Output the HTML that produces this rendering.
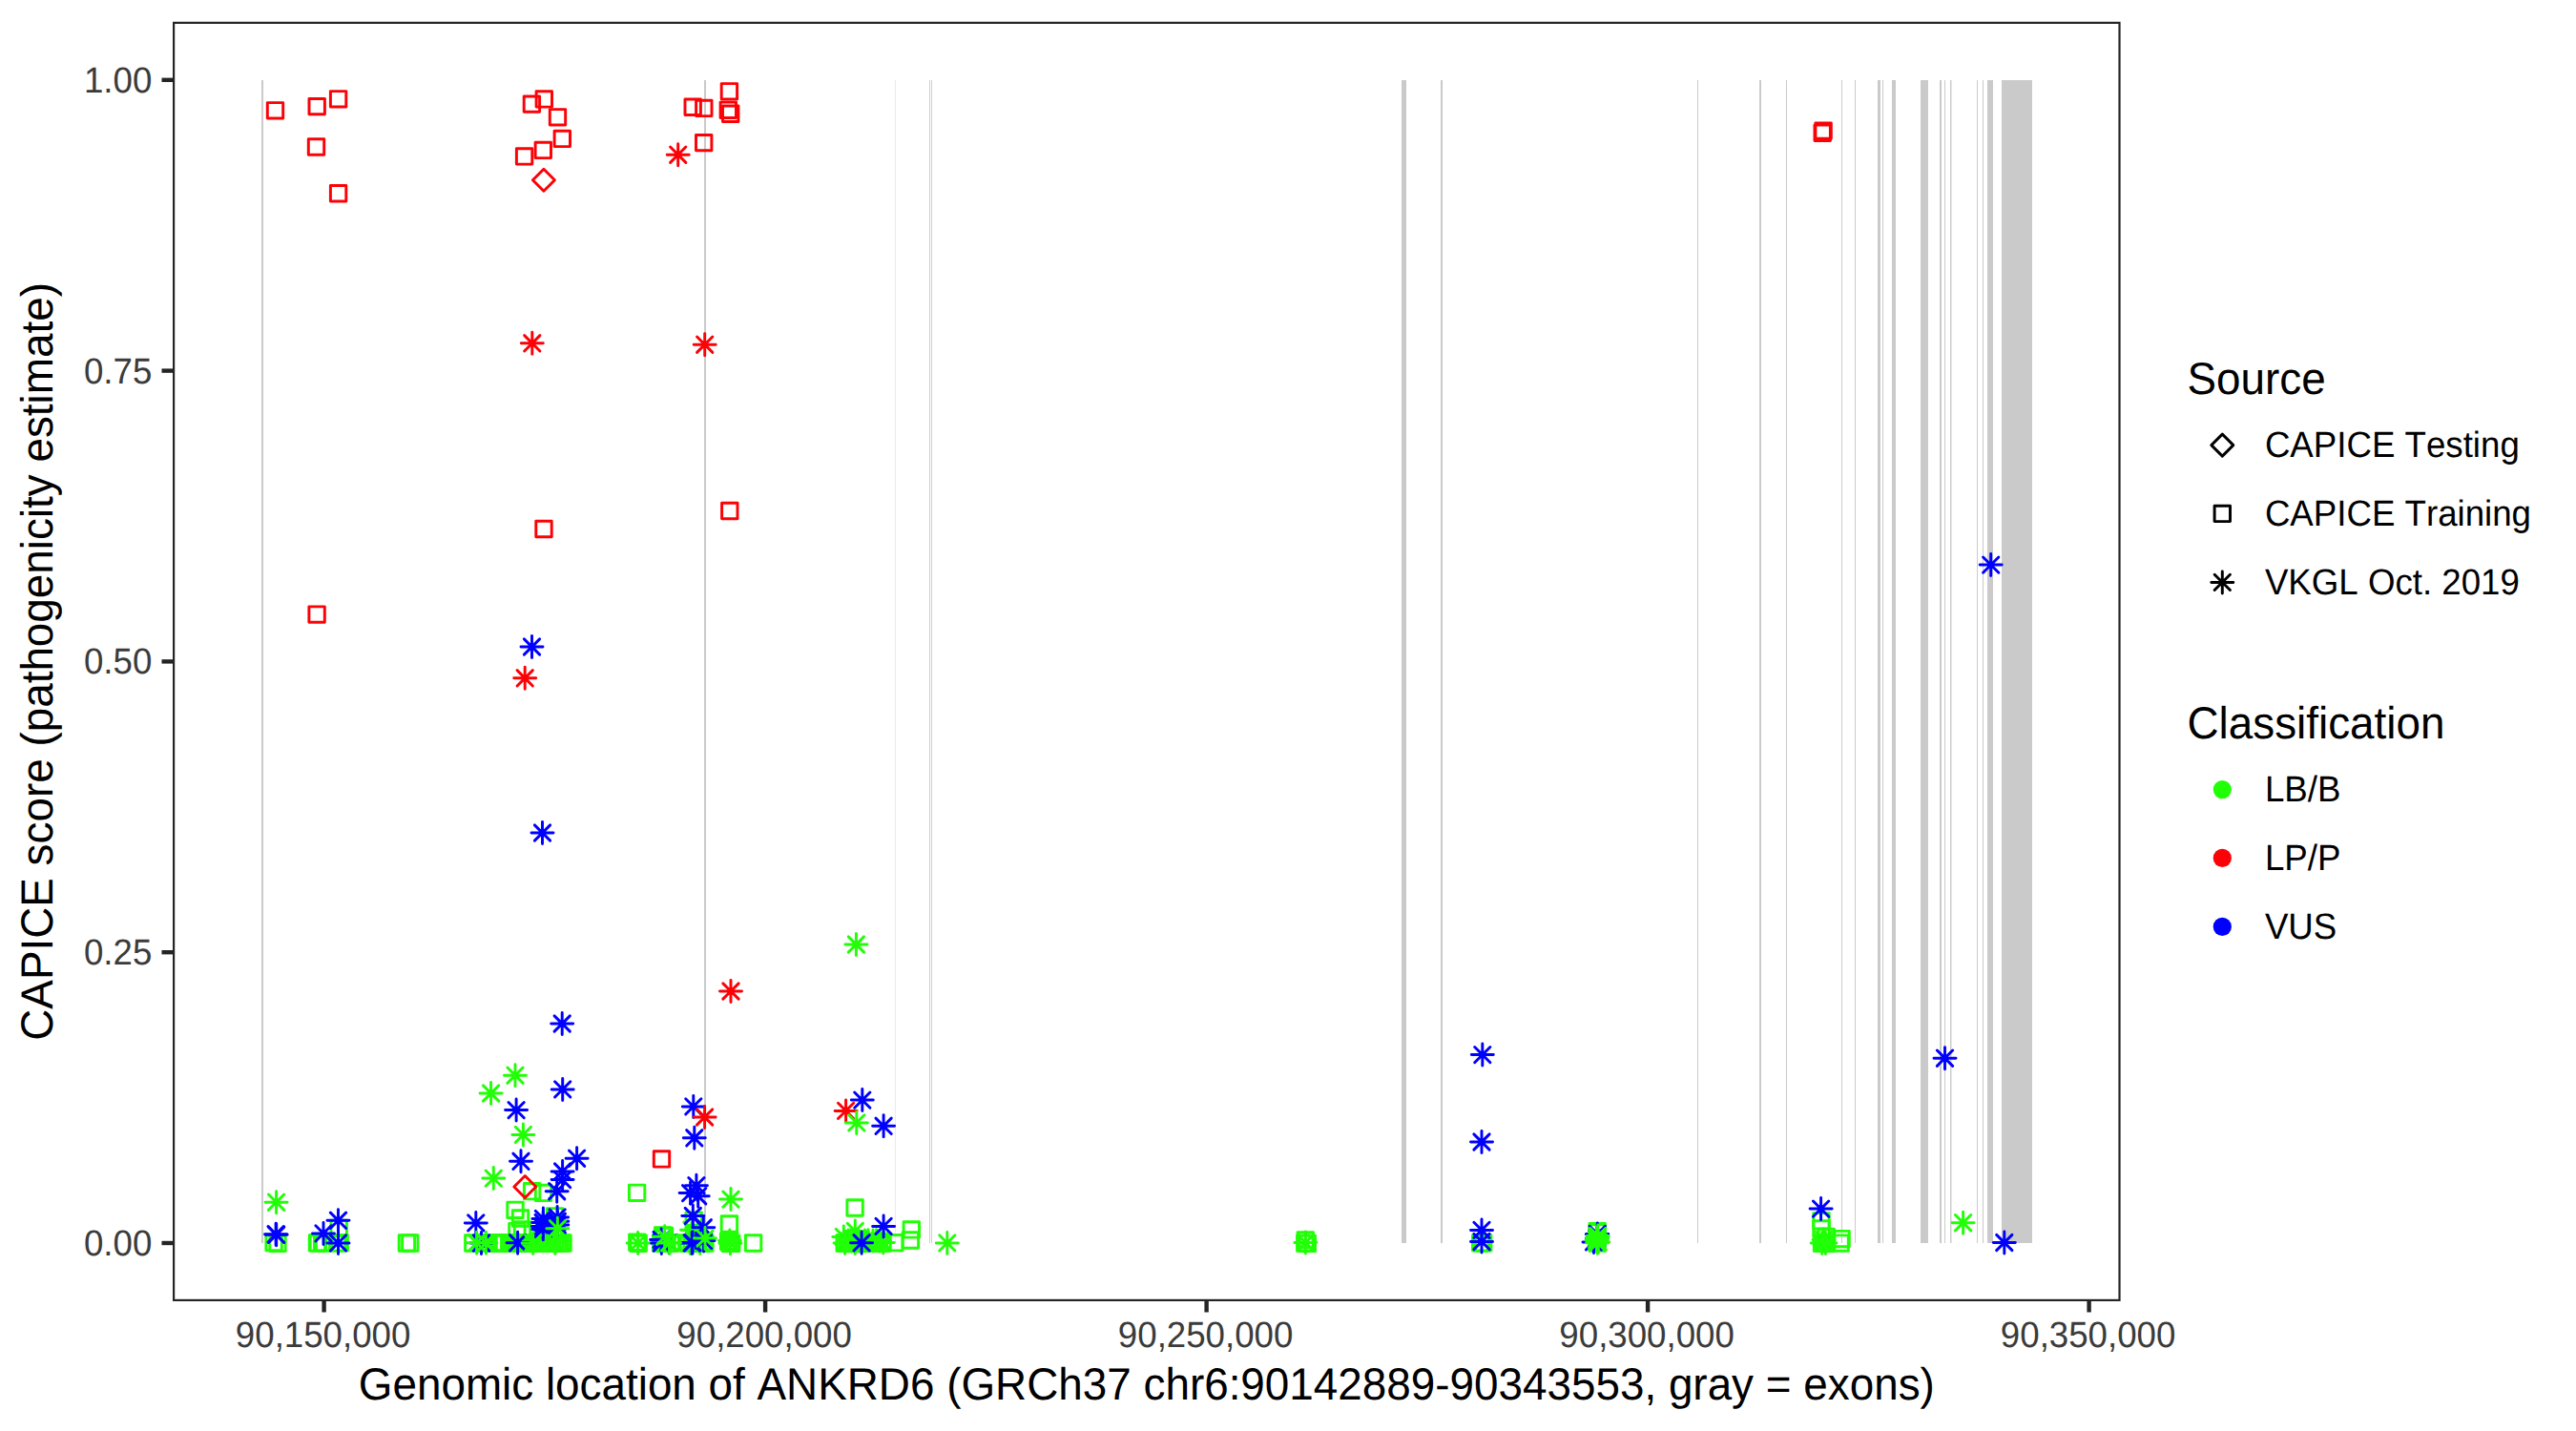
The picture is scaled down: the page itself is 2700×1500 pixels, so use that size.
<!DOCTYPE html>
<html lang="en"><head><meta charset="utf-8"><title>CAPICE score ANKRD6</title>
<style>html,body{margin:0;padding:0;background:#fff}body{width:2700px;height:1500px}svg{display:block}text{font-family:"Liberation Sans",Arial,Helvetica,sans-serif;font-kerning:none;font-feature-settings:"kern" 0;text-rendering:geometricPrecision}</style>
</head><body>
<svg width="2700" height="1500" viewBox="0 0 2700 1500">
<rect width="2700" height="1500" fill="#ffffff"/>
<defs>
<g id="s"><rect x="-8.2" y="-8.2" width="16.4" height="16.4" fill="none" stroke-width="2.95" stroke-linejoin="round"/></g>
<g id="d"><path d="M-11.5 0L0 -11.5L11.5 0L0 11.5Z" fill="none" stroke-width="2.95" stroke-linejoin="round"/></g>
<g id="x"><path d="M-11.5 0H11.5M0 -11.5V11.5M-8.14 -8.14L8.14 8.14M-8.14 8.14L8.14 -8.14" fill="none" stroke-width="2.95" stroke-linecap="round"/></g>
</defs>
<g shape-rendering="crispEdges">
<rect x="274" y="84" width="2" height="1219" fill="#cacaca"/>
<rect x="738" y="84" width="2" height="1219" fill="#cacaca"/>
<rect x="938" y="84" width="1" height="1219" fill="#ebebeb"/>
<rect x="974" y="84" width="1" height="1219" fill="#d0d0d0"/>
<rect x="976" y="84" width="1" height="1219" fill="#d0d0d0"/>
<rect x="1469" y="84" width="5" height="1219" fill="#cacaca"/>
<rect x="1510" y="84" width="2" height="1219" fill="#cacaca"/>
<rect x="1779" y="84" width="1" height="1219" fill="#cacaca"/>
<rect x="1844" y="84" width="2" height="1219" fill="#cacaca"/>
<rect x="1872" y="84" width="1" height="1219" fill="#cacaca"/>
<rect x="1930" y="84" width="1" height="1219" fill="#cacaca"/>
<rect x="1944" y="84" width="1" height="1219" fill="#cacaca"/>
<rect x="1968" y="84" width="3" height="1219" fill="#cacaca"/>
<rect x="1973" y="84" width="1" height="1219" fill="#cacaca"/>
<rect x="1983" y="84" width="4" height="1219" fill="#cacaca"/>
<rect x="2013" y="84" width="8" height="1219" fill="#cacaca"/>
<rect x="2033" y="84" width="2" height="1219" fill="#cacaca"/>
<rect x="2038" y="84" width="1" height="1219" fill="#cacaca"/>
<rect x="2044" y="84" width="1" height="1219" fill="#cacaca"/>
<rect x="2045" y="84" width="1" height="1219" fill="#e8e8e8"/>
<rect x="2072" y="84" width="1" height="1219" fill="#cacaca"/>
<rect x="2078" y="84" width="1" height="1219" fill="#cacaca"/>
<rect x="2083" y="84" width="6" height="1219" fill="#cacaca"/>
<rect x="2098" y="84" width="32" height="1219" fill="#cacaca"/>
</g>
<g stroke="#21ff06">
<use href="#s" x="287.1" y="1302.6"/>
<use href="#s" x="291.0" y="1303.4"/>
<use href="#s" x="332.5" y="1302.9"/>
<use href="#s" x="333.3" y="1302.9"/>
<use href="#s" x="337.7" y="1302.9"/>
<use href="#s" x="339.6" y="1302.9"/>
<use href="#s" x="353.6" y="1302.9"/>
<use href="#s" x="356.2" y="1302.9"/>
<use href="#s" x="355.2" y="1287.5"/>
<use href="#s" x="426.4" y="1303.0"/>
<use href="#s" x="429.8" y="1303.0"/>
<use href="#s" x="495.8" y="1303.0"/>
<use href="#s" x="505.8" y="1303.0"/>
<use href="#s" x="508.6" y="1303.0"/>
<use href="#s" x="511.4" y="1303.0"/>
<use href="#s" x="517.6" y="1303.0"/>
<use href="#s" x="520.4" y="1303.0"/>
<use href="#s" x="523.2" y="1303.0"/>
<use href="#s" x="526.0" y="1303.0"/>
<use href="#s" x="528.4" y="1303.0"/>
<use href="#s" x="534.0" y="1303.0"/>
<use href="#s" x="536.8" y="1303.0"/>
<use href="#s" x="539.6" y="1303.0"/>
<use href="#s" x="542.4" y="1303.0"/>
<use href="#s" x="545.2" y="1303.0"/>
<use href="#s" x="548.0" y="1303.0"/>
<use href="#s" x="550.8" y="1303.0"/>
<use href="#s" x="553.6" y="1303.0"/>
<use href="#s" x="556.4" y="1303.0"/>
<use href="#s" x="559.2" y="1303.0"/>
<use href="#s" x="562.0" y="1303.0"/>
<use href="#s" x="564.8" y="1303.0"/>
<use href="#s" x="567.6" y="1303.0"/>
<use href="#s" x="570.4" y="1303.0"/>
<use href="#s" x="573.2" y="1303.0"/>
<use href="#s" x="576.0" y="1303.0"/>
<use href="#s" x="578.8" y="1303.0"/>
<use href="#s" x="581.6" y="1303.0"/>
<use href="#s" x="584.4" y="1303.0"/>
<use href="#s" x="587.2" y="1303.0"/>
<use href="#s" x="590.0" y="1303.0"/>
<use href="#s" x="557.6" y="1248.7"/>
<use href="#s" x="569.5" y="1250.4"/>
<use href="#s" x="540.0" y="1268.3"/>
<use href="#s" x="545.5" y="1277.0"/>
<use href="#s" x="541.9" y="1290.6"/>
<use href="#s" x="547.5" y="1289.0"/>
<use href="#s" x="581.6" y="1274.8"/>
<use href="#s" x="583.0" y="1293.5"/>
<use href="#s" x="574.0" y="1296.0"/>
<use href="#s" x="667.6" y="1250.3"/>
<use href="#s" x="667.8" y="1302.2"/>
<use href="#s" x="669.2" y="1303.4"/>
<use href="#s" x="694.6" y="1295.0"/>
<use href="#s" x="696.4" y="1295.4"/>
<use href="#s" x="692.6" y="1303.0"/>
<use href="#s" x="695.5" y="1303.0"/>
<use href="#s" x="699.0" y="1303.0"/>
<use href="#s" x="703.3" y="1303.0"/>
<use href="#s" x="721.5" y="1303.0"/>
<use href="#s" x="725.0" y="1303.0"/>
<use href="#s" x="728.5" y="1303.0"/>
<use href="#s" x="732.0" y="1303.0"/>
<use href="#s" x="735.5" y="1303.0"/>
<use href="#s" x="738.9" y="1303.0"/>
<use href="#s" x="727.2" y="1279.1"/>
<use href="#s" x="727.5" y="1292.5"/>
<use href="#s" x="731.0" y="1296.5"/>
<use href="#s" x="764.4" y="1283.0"/>
<use href="#s" x="763.6" y="1301.2"/>
<use href="#s" x="765.0" y="1302.8"/>
<use href="#s" x="766.8" y="1303.4"/>
<use href="#s" x="789.6" y="1303.0"/>
<use href="#s" x="885.2" y="1303.0"/>
<use href="#s" x="888.0" y="1303.0"/>
<use href="#s" x="891.0" y="1303.0"/>
<use href="#s" x="894.5" y="1303.0"/>
<use href="#s" x="898.0" y="1303.0"/>
<use href="#s" x="901.5" y="1303.0"/>
<use href="#s" x="905.0" y="1303.0"/>
<use href="#s" x="913.0" y="1303.0"/>
<use href="#s" x="917.0" y="1303.0"/>
<use href="#s" x="921.0" y="1303.0"/>
<use href="#s" x="925.0" y="1303.0"/>
<use href="#s" x="896.1" y="1266.0"/>
<use href="#s" x="937.8" y="1302.7"/>
<use href="#s" x="954.4" y="1300.0"/>
<use href="#s" x="955.3" y="1288.9"/>
<use href="#s" x="1368.3" y="1299.8"/>
<use href="#s" x="1367.8" y="1303.2"/>
<use href="#s" x="1370.3" y="1303.3"/>
<use href="#s" x="1551.7" y="1302.9"/>
<use href="#s" x="1553.2" y="1302.9"/>
<use href="#s" x="1554.7" y="1302.9"/>
<use href="#s" x="1674.2" y="1290.7"/>
<use href="#s" x="1674.2" y="1291.9"/>
<use href="#s" x="1674.2" y="1297.7"/>
<use href="#s" x="1674.2" y="1303.0"/>
<use href="#s" x="1909.0" y="1279.8"/>
<use href="#s" x="1909.0" y="1287.9"/>
<use href="#s" x="1914.2" y="1296.4"/>
<use href="#s" x="1930.1" y="1298.6"/>
<use href="#s" x="1929.1" y="1303.1"/>
<use href="#s" x="1909.5" y="1303.0"/>
<use href="#s" x="1912.0" y="1303.0"/>
<use href="#s" x="1914.5" y="1303.2"/>
</g>
<g stroke="#fb0207">
<use href="#s" x="288.5" y="115.8"/>
<use href="#s" x="332.2" y="111.6"/>
<use href="#s" x="354.6" y="103.8"/>
<use href="#s" x="331.5" y="154.0"/>
<use href="#s" x="354.6" y="202.7"/>
<use href="#s" x="557.4" y="109.1"/>
<use href="#s" x="570.3" y="103.9"/>
<use href="#s" x="584.5" y="122.8"/>
<use href="#s" x="589.3" y="145.4"/>
<use href="#s" x="569.3" y="157.4"/>
<use href="#s" x="549.6" y="163.9"/>
<use href="#s" x="726.2" y="112.2"/>
<use href="#s" x="737.8" y="113.4"/>
<use href="#s" x="764.4" y="95.8"/>
<use href="#s" x="763.3" y="115.3"/>
<use href="#s" x="765.7" y="119.2"/>
<use href="#s" x="737.7" y="149.6"/>
<use href="#s" x="1911.1" y="137.1"/>
<use href="#s" x="1910.2" y="139.3"/>
<use href="#s" x="332.1" y="644.1"/>
<use href="#s" x="570.0" y="554.5"/>
<use href="#s" x="764.8" y="535.5"/>
<use href="#s" x="693.5" y="1214.9"/>
<use href="#d" x="569.9" y="188.8"/>
<use href="#d" x="550.3" y="1244.0"/>
<use href="#x" x="710.7" y="162.2"/>
<use href="#x" x="557.8" y="359.8"/>
<use href="#x" x="738.7" y="361.2"/>
<use href="#x" x="550.2" y="710.8"/>
<use href="#x" x="766.0" y="1039.0"/>
<use href="#x" x="886.6" y="1164.4"/>
</g>
<g stroke="#21ff06">
<use href="#x" x="725.0" y="1289.2"/>
<use href="#x" x="723.3" y="1303.0"/>
<use href="#x" x="733.7" y="1303.0"/>
</g>
<g stroke="#0000ff">
<use href="#x" x="557.5" y="678.0"/>
<use href="#x" x="568.5" y="873.0"/>
<use href="#x" x="589.2" y="1073.0"/>
<use href="#x" x="589.7" y="1141.9"/>
<use href="#x" x="541.1" y="1163.6"/>
<use href="#x" x="546.0" y="1217.3"/>
<use href="#x" x="604.6" y="1214.2"/>
<use href="#x" x="589.6" y="1228.0"/>
<use href="#x" x="589.6" y="1236.6"/>
<use href="#x" x="583.7" y="1248.7"/>
<use href="#x" x="498.8" y="1281.9"/>
<use href="#x" x="569.4" y="1277.4"/>
<use href="#x" x="569.2" y="1281.5"/>
<use href="#x" x="569.0" y="1285.4"/>
<use href="#x" x="569.3" y="1288.4"/>
<use href="#x" x="584.1" y="1275.9"/>
<use href="#x" x="584.3" y="1280.3"/>
<use href="#x" x="584.3" y="1284.0"/>
<use href="#x" x="726.8" y="1159.9"/>
<use href="#x" x="727.8" y="1192.8"/>
<use href="#x" x="729.9" y="1242.7"/>
<use href="#x" x="723.6" y="1250.6"/>
<use href="#x" x="731.7" y="1253.7"/>
<use href="#x" x="726.3" y="1274.5"/>
<use href="#x" x="737.3" y="1286.8"/>
<use href="#x" x="903.8" y="1153.1"/>
<use href="#x" x="926.1" y="1180.3"/>
<use href="#x" x="1553.8" y="1105.6"/>
<use href="#x" x="1553.0" y="1197.0"/>
<use href="#x" x="1553.0" y="1289.4"/>
<use href="#x" x="1553.0" y="1301.5"/>
<use href="#x" x="1908.6" y="1267.1"/>
<use href="#x" x="2100.8" y="1302.5"/>
<use href="#x" x="2086.7" y="592.1"/>
<use href="#x" x="2038.5" y="1109.2"/>
<use href="#x" x="289.1" y="1293.8"/>
<use href="#x" x="289.7" y="1294.3"/>
<use href="#x" x="339.0" y="1292.9"/>
<use href="#x" x="354.5" y="1279.3"/>
<use href="#x" x="354.5" y="1302.9"/>
<use href="#x" x="504.5" y="1303.0"/>
<use href="#x" x="542.6" y="1302.8"/>
<use href="#x" x="693.1" y="1299.5"/>
<use href="#x" x="693.3" y="1303.0"/>
<use href="#x" x="701.3" y="1302.4"/>
<use href="#x" x="725.2" y="1302.9"/>
<use href="#x" x="726.0" y="1302.6"/>
<use href="#x" x="737.6" y="1300.4"/>
<use href="#x" x="1670.5" y="1301.9"/>
<use href="#x" x="1673.9" y="1298.1"/>
<use href="#x" x="1674.3" y="1293.5"/>
</g>
<g stroke="#21ff06">
<use href="#x" x="289.6" y="1260.2"/>
<use href="#x" x="540.0" y="1127.2"/>
<use href="#x" x="514.6" y="1146.0"/>
<use href="#x" x="548.4" y="1189.4"/>
<use href="#x" x="517.3" y="1235.1"/>
<use href="#x" x="766.0" y="1257.1"/>
<use href="#x" x="897.4" y="990.0"/>
<use href="#x" x="897.8" y="1176.9"/>
<use href="#x" x="896.3" y="1290.4"/>
<use href="#x" x="992.8" y="1302.9"/>
<use href="#x" x="2057.6" y="1281.7"/>
<use href="#x" x="584.4" y="1287.7"/>
<use href="#x" x="499.6" y="1302.8"/>
<use href="#x" x="509.4" y="1302.8"/>
<use href="#x" x="558.7" y="1303.0"/>
<use href="#x" x="581.9" y="1303.0"/>
<use href="#x" x="668.6" y="1302.9"/>
<use href="#x" x="696.7" y="1296.3"/>
<use href="#x" x="701.6" y="1302.6"/>
<use href="#x" x="702.0" y="1302.9"/>
<use href="#x" x="739.0" y="1298.1"/>
<use href="#x" x="764.9" y="1300.4"/>
<use href="#x" x="765.4" y="1303.2"/>
<use href="#x" x="884.3" y="1296.4"/>
<use href="#x" x="885.6" y="1303.0"/>
<use href="#x" x="889.0" y="1300.5"/>
<use href="#x" x="892.5" y="1300.8"/>
<use href="#x" x="896.3" y="1303.0"/>
<use href="#x" x="900.0" y="1300.4"/>
<use href="#x" x="906.5" y="1300.6"/>
<use href="#x" x="910.0" y="1300.2"/>
<use href="#x" x="915.0" y="1300.6"/>
<use href="#x" x="918.5" y="1300.3"/>
<use href="#x" x="922.0" y="1300.8"/>
<use href="#x" x="925.8" y="1302.6"/>
<use href="#x" x="1368.4" y="1302.5"/>
<use href="#x" x="1674.2" y="1297.9"/>
<use href="#x" x="1674.2" y="1302.7"/>
<use href="#x" x="1675.3" y="1301.9"/>
<use href="#x" x="1673.5" y="1300.0"/>
<use href="#x" x="1674.8" y="1295.5"/>
<use href="#x" x="1909.7" y="1303.0"/>
<use href="#x" x="1913.4" y="1303.0"/>
<use href="#x" x="1911.5" y="1299.5"/>
</g>
<g stroke="#0000ff">
<use href="#x" x="903.1" y="1302.8"/>
<use href="#x" x="926.1" y="1285.4"/>
</g>
<g stroke="#fb0207">
<use href="#x" x="738.6" y="1171.0"/>
</g>
<rect x="182.1" y="23.900000000000002" width="2039.3999999999999" height="1339.0" fill="none" stroke="#242424" stroke-width="2.2"/>
<g stroke="#242424" stroke-width="4.4">
<line x1="169.5" x2="181.0" y1="83.8" y2="83.8"/>
<line x1="169.5" x2="181.0" y1="388.6" y2="388.6"/>
<line x1="169.5" x2="181.0" y1="693.4" y2="693.4"/>
<line x1="169.5" x2="181.0" y1="998.2" y2="998.2"/>
<line x1="169.5" x2="181.0" y1="1303.0" y2="1303.0"/>
<line x1="339.6" x2="339.6" y1="1364.0" y2="1375.5"/>
<line x1="802.1" x2="802.1" y1="1364.0" y2="1375.5"/>
<line x1="1264.6" x2="1264.6" y1="1364.0" y2="1375.5"/>
<line x1="1727.1" x2="1727.1" y1="1364.0" y2="1375.5"/>
<line x1="2189.6" x2="2189.6" y1="1364.0" y2="1375.5"/>
</g>
<g fill="#3b3b3b" font-size="36.67px">
<text transform="translate(159.3 96.7) scale(1 1.04)" text-anchor="end">1.00</text>
<text transform="translate(159.3 401.5) scale(1 1.04)" text-anchor="end">0.75</text>
<text transform="translate(159.3 706.3) scale(1 1.04)" text-anchor="end">0.50</text>
<text transform="translate(159.3 1011.1) scale(1 1.04)" text-anchor="end">0.25</text>
<text transform="translate(159.3 1315.9) scale(1 1.04)" text-anchor="end">0.00</text>
<text transform="translate(338.6 1412.2) scale(1 1.04)" text-anchor="middle">90,150,000</text>
<text transform="translate(801.1 1412.2) scale(1 1.04)" text-anchor="middle">90,200,000</text>
<text transform="translate(1263.6 1412.2) scale(1 1.04)" text-anchor="middle">90,250,000</text>
<text transform="translate(1726.1 1412.2) scale(1 1.04)" text-anchor="middle">90,300,000</text>
<text transform="translate(2188.6 1412.2) scale(1 1.04)" text-anchor="middle">90,350,000</text>
</g>
<g fill="#000000" font-size="45.83px">
<text transform="translate(1201.8 1467.2) scale(1 1.03)" text-anchor="middle">Genomic location of ANKRD6 (GRCh37 chr6:90142889-90343553, gray = exons)</text>
<text transform="translate(54.8 693.4) rotate(-90) scale(1 1.03)" text-anchor="middle">CAPICE score (pathogenicity estimate)</text>
<text transform="translate(2292.5 412.8) scale(1 1.03)">Source</text>
<text transform="translate(2292.5 773.8) scale(1 1.03)">Classification</text>
</g>
<g fill="#000000" font-size="36.67px">
<text transform="translate(2373.9 479.4) scale(1 1.04)">CAPICE Testing</text>
<text transform="translate(2373.9 551.2) scale(1 1.04)">CAPICE Training</text>
<text transform="translate(2373.9 623.2) scale(1 1.04)">VKGL Oct. 2019</text>
<text transform="translate(2373.9 840.4) scale(1 1.04)">LB/B</text>
<text transform="translate(2373.9 912.2) scale(1 1.04)">LP/P</text>
<text transform="translate(2373.9 984.2) scale(1 1.04)">VUS</text>
</g>
<g stroke="#000000">
<use href="#d" x="2329.3" y="466.6"/><use href="#s" x="2329.3" y="538.4"/><use href="#x" x="2329.3" y="610.4"/>
</g>
<circle cx="2329.3" cy="827.6" r="9.6" fill="#21ff06"/><circle cx="2329.3" cy="899.4" r="9.6" fill="#fb0207"/><circle cx="2329.3" cy="971.4" r="9.6" fill="#0000ff"/>
</svg></body></html>
